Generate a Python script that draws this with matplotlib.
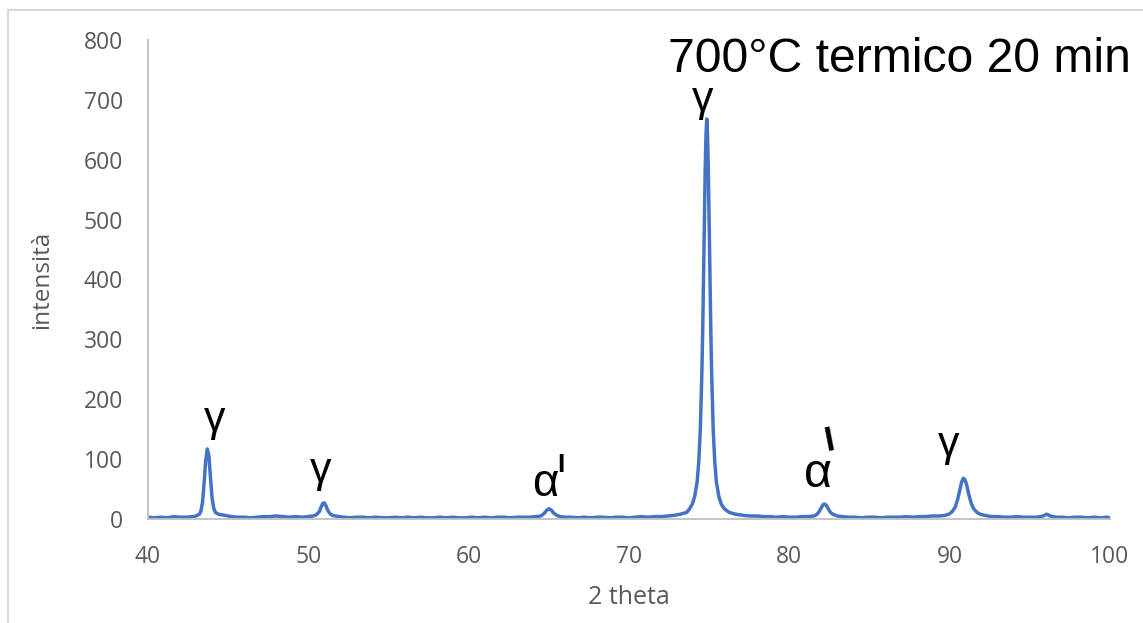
import matplotlib
matplotlib.use("Agg")
import matplotlib.pyplot as plt
from matplotlib.lines import Line2D

# XRD pattern, 700 °C thermal treatment for 20 min
two_theta = [
    40.0, 40.4, 40.8, 41.2, 41.6, 42.0, 42.4, 42.8, 43.0, 43.2,
    43.3, 43.4, 43.5, 43.6, 43.7, 43.8, 43.9, 44.0, 44.1, 44.2, 44.4, 44.6, 44.8,
    45.2, 45.6, 46.0, 46.4, 46.8, 47.2, 47.6, 48.0, 48.4, 48.8, 49.2, 49.6, 50.0, 50.3,
    50.5, 50.7, 50.8, 50.9, 51.0, 51.1, 51.2, 51.35, 51.5, 51.7, 51.9,
    52.2, 52.6, 53.0, 53.4, 53.8, 54.2, 54.6, 55.0, 55.4, 55.8,
    56.2, 56.6, 57.0, 57.4, 57.8, 58.2, 58.6, 59.0, 59.4, 59.8,
    60.2, 60.6, 61.0, 61.4, 61.8, 62.2, 62.6, 63.0, 63.4, 63.8, 64.2,
    64.5, 64.7, 64.85, 65.0, 65.15, 65.3, 65.5, 65.7, 66.0,
    66.4, 66.8, 67.2, 67.6, 68.0, 68.4, 68.8, 69.2, 69.6, 70.0,
    70.4, 70.8, 71.2, 71.6, 72.0, 72.4, 72.8, 73.2, 73.6,
    73.75, 73.95, 74.1, 74.25, 74.35, 74.45, 74.55, 74.6, 74.65, 74.7, 74.75, 74.8,
    74.85,
    74.9, 74.95, 75.0, 75.05, 75.1, 75.15, 75.25, 75.35, 75.45, 75.6, 75.75, 75.95,
    76.25, 76.65, 77.15,
    77.6, 78.0, 78.4, 78.8, 79.2, 79.6, 80.0, 80.4, 80.8, 81.2, 81.5,
    81.7, 81.85, 82.0, 82.1, 82.2, 82.3, 82.45, 82.6, 82.8, 83.0, 83.3,
    83.7, 84.1, 84.5, 84.9, 85.3, 85.7, 86.1, 86.5, 86.9, 87.3, 87.7, 88.1, 88.5, 88.9, 89.3,
    89.7, 89.95, 90.15, 90.35, 90.5, 90.65, 90.75, 90.85, 90.95, 91.05, 91.2, 91.35,
    91.5, 91.7, 91.9, 92.2, 92.6,
    93.0, 93.4, 93.8, 94.2, 94.6, 95.0, 95.4, 95.7,
    95.9, 96.05, 96.2, 96.4, 96.7,
    97.0, 97.4, 97.8, 98.2, 98.6, 99.0, 99.4, 99.8, 100.0,
]
intensity = [
    3, 2, 3, 2, 4, 3, 3, 4, 5, 8,
    13, 28, 60, 98, 117, 105, 68, 34, 18, 11, 8, 7, 6,
    4, 3, 3, 2, 3, 4, 4, 5, 4, 3, 4, 3, 4, 5,
    7, 13, 20, 26, 27, 22, 15, 9, 6, 5, 4,
    3, 2, 3, 3, 2, 3, 2, 2, 3, 2,
    3, 2, 3, 2, 2, 3, 2, 3, 2, 2,
    3, 2, 3, 2, 3, 3, 2, 3, 3, 3, 4,
    5, 9, 14, 17, 15, 10, 6, 4, 3,
    3, 2, 3, 2, 3, 3, 2, 3, 3, 2,
    3, 4, 3, 4, 4, 5, 6, 8, 11,
    16, 25, 38, 62, 95, 150, 250, 320, 400, 490, 580, 640,
    668,
    640, 580, 490, 400, 320, 250, 150, 95, 62, 38, 25, 17,
    11, 8, 6,
    5, 5, 4, 4, 3, 4, 3, 3, 4, 4, 5,
    7, 12, 19, 24, 25, 23, 16, 10, 7, 5, 4,
    3, 3, 2, 3, 3, 2, 3, 3, 3, 4, 3, 4, 4, 5, 5,
    6, 8, 12, 20, 33, 50, 62, 68, 66, 58, 40, 26,
    17, 11, 8, 6, 4,
    4, 3, 3, 4, 3, 3, 3, 4,
    6, 8, 6, 4, 3,
    3, 2, 3, 3, 2, 3, 2, 3, 2,
]

# gamma peak labels
gamma_x = [44.18, 50.79, 74.62, 89.96]
gamma_y = [147, 62, 681.5, 105.5]

# alpha' peak labels
alpha_x = [64.76, 81.82]
alpha_y = [38.4, 53.4]
alpha_size = [33, 35]

W, H = 1143, 623
fig = plt.figure(figsize=(W / 100, H / 100), dpi=100)
ax = fig.add_axes([148 / W, 1 - 519 / H, (1110 - 148) / W, (519 - 40) / H])

ax.plot(two_theta, intensity, color="#4472C4", lw=2.5, solid_joinstyle="round")

ax.set_xlim(40, 100)
ax.set_ylim(0, 800)
ax.set_xticks(range(40, 101, 10))
ax.set_yticks(range(0, 801, 100))

tick_font = "Open Sans"
for lab in ax.get_xticklabels() + ax.get_yticklabels():
    lab.set_fontfamily(tick_font)
    lab.set_fontsize(16.5)
    lab.set_color("#595959")
ax.tick_params(axis="both", length=0)
ax.tick_params(axis="y", pad=18)
ax.tick_params(axis="x", pad=19)

ax.set_xlabel("2 theta", fontsize=18, color="#595959", family=tick_font, labelpad=11)
ax.set_ylabel("intensità", fontsize=17.5, color="#595959", family=tick_font, labelpad=21)

for side in ["top", "right"]:
    ax.spines[side].set_visible(False)
ax.spines["left"].set_color("#bfbfbf")
ax.spines["left"].set_linewidth(1.3)
ax.spines["bottom"].set_color("#bfbfbf")
ax.spines["bottom"].set_linewidth(1.3)
ax.set_zorder(2)

greek_font = ["Liberation Sans Narrow", "Liberation Sans", "DejaVu Sans"]
for x, y in zip(gamma_x, gamma_y):
    ax.text(x, y, "γ", fontsize=31, ha="center", va="baseline",
            family=greek_font, color="black")

for x, y, s in zip(alpha_x, alpha_y, alpha_size):
    ax.text(x, y, "α", fontsize=s, ha="center", va="baseline",
            family=["Liberation Sans", "DejaVu Sans"], color="black")

# prime marks next to the alphas
ax.text(65.76, 78.5, "I", fontsize=19, fontweight="bold", ha="center",
        va="baseline", family="Liberation Sans", color="black")
ax.text(82.6, 115.2, "I", fontsize=25, fontweight="bold", ha="center",
        va="baseline", rotation=11, rotation_mode="anchor",
        family="Liberation Sans", color="black")

fig.text(668 / W, 1 - 72 / H, "700°C termico 20 min", fontsize=34.7,
         ha="left", va="baseline", family="Liberation Sans", color="black")

# chart area border
fig.add_artist(Line2D([8 / W, 1.0], [1 - 10 / H, 1 - 10 / H], color="#d9d9d9", lw=1.5))
fig.add_artist(Line2D([8 / W, 8 / W], [0.0, 1 - 10 / H], color="#d9d9d9", lw=1.5))

fig.savefig("out.png", dpi=100, facecolor="white")
